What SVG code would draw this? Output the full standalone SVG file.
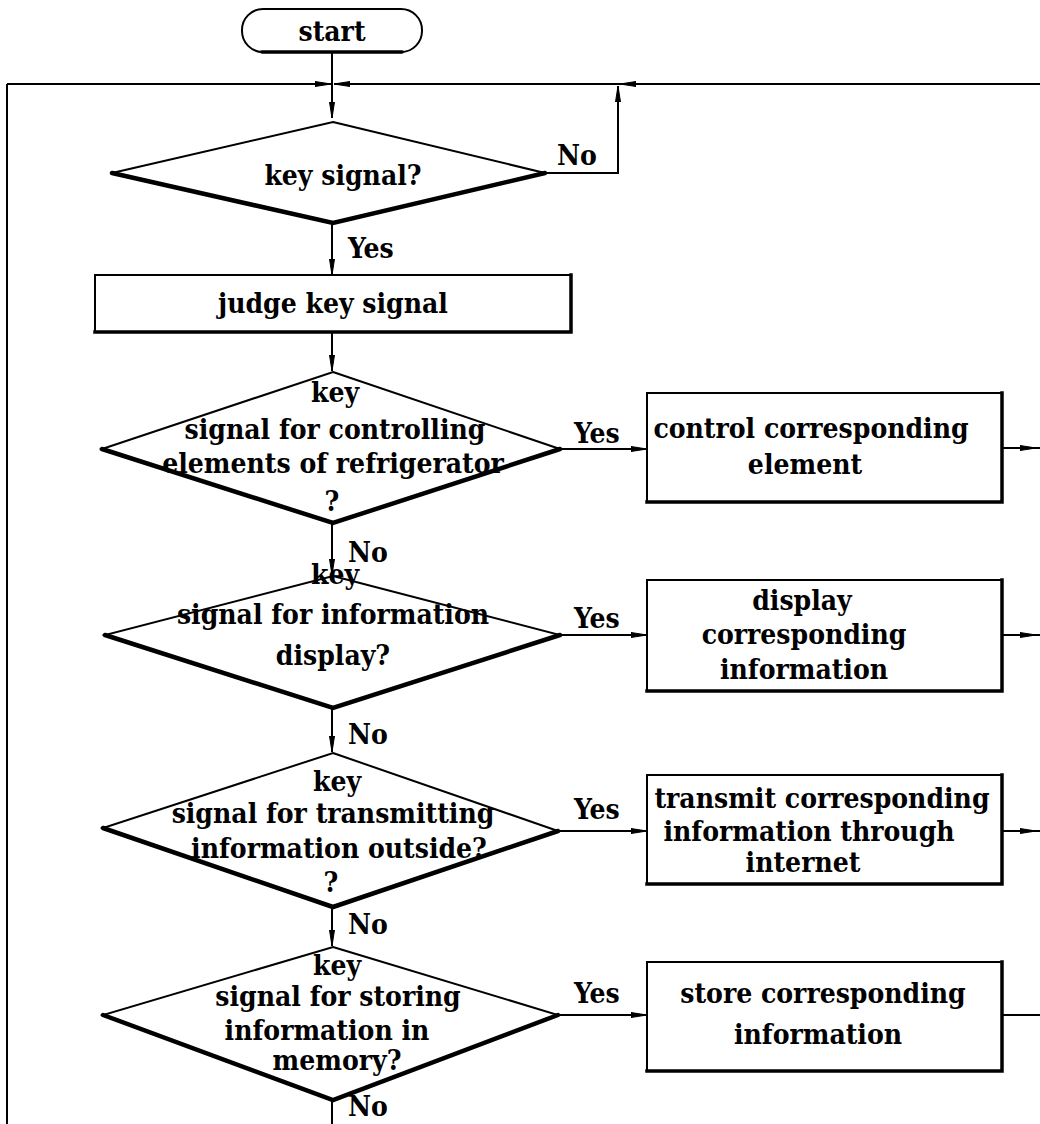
<svg xmlns="http://www.w3.org/2000/svg" width="1040" height="1124" viewBox="0 0 1040 1124">
<style>
  .bg{fill:#fff}
  .shape{fill:#fff;stroke:#000;stroke-width:2}
  .heavy{fill:none;stroke:#000;stroke-width:4.5;stroke-linecap:round}
  .line{fill:none;stroke:#000;stroke-width:2}
  .t{font-family:"DejaVu Serif Condensed","DejaVu Serif","Liberation Serif",serif;font-stretch:condensed;font-weight:bold;font-size:28px;fill:#000;text-anchor:middle}
  .l{font-family:"DejaVu Serif Condensed","DejaVu Serif","Liberation Serif",serif;font-stretch:condensed;font-weight:bold;font-size:28px;fill:#000;text-anchor:start}
</style>
<defs>
  <marker id="arr" markerUnits="userSpaceOnUse" markerWidth="16" markerHeight="8" refX="16" refY="4" orient="auto">
    <path d="M0,1.5 L16,4 L0,6.5 z" fill="#000" stroke="#000" stroke-width="1"/>
  </marker>
</defs>
<rect class="bg" x="0" y="0" width="1040" height="1124"/>

<g id="connectors">
  <line class="line" x1="332" y1="52" x2="332" y2="118" marker-end="url(#arr)"/>
  <line class="line" x1="7" y1="84" x2="331" y2="84" marker-end="url(#arr)"/>
  <line class="line" x1="1040" y1="84" x2="620" y2="84" marker-end="url(#arr)"/>
  <line class="line" x1="620" y1="84" x2="334" y2="84" marker-end="url(#arr)"/>
  <line class="line" x1="7" y1="84" x2="7" y2="1124"/>
  <polyline class="line" points="545,173 618,173 618,86" marker-end="url(#arr)"/>
  <line class="line" x1="332" y1="223" x2="332" y2="275" marker-end="url(#arr)"/>
  <line class="line" x1="332" y1="332" x2="332" y2="371" marker-end="url(#arr)"/>
  <line class="line" x1="332" y1="523" x2="332" y2="575" marker-end="url(#arr)"/>
  <line class="line" x1="332" y1="708" x2="332" y2="752" marker-end="url(#arr)"/>
  <line class="line" x1="332" y1="907" x2="332" y2="946" marker-end="url(#arr)"/>
  <line class="line" x1="332" y1="1100" x2="332" y2="1124"/>
  <line class="line" x1="560" y1="449" x2="647" y2="449" marker-end="url(#arr)"/>
  <line class="line" x1="560" y1="635" x2="647" y2="635" marker-end="url(#arr)"/>
  <line class="line" x1="558" y1="831" x2="647" y2="831" marker-end="url(#arr)"/>
  <line class="line" x1="558" y1="1015" x2="647" y2="1015" marker-end="url(#arr)"/>
  <line class="line" x1="1002" y1="448" x2="1036" y2="448" marker-end="url(#arr)"/>
  <line class="line" x1="1036" y1="448" x2="1040" y2="448"/>
  <line class="line" x1="1002" y1="635" x2="1036" y2="635" marker-end="url(#arr)"/>
  <line class="line" x1="1036" y1="635" x2="1040" y2="635"/>
  <line class="line" x1="1002" y1="831" x2="1036" y2="831" marker-end="url(#arr)"/>
  <line class="line" x1="1036" y1="831" x2="1040" y2="831"/>
  <line class="line" x1="1002" y1="1015" x2="1040" y2="1015"/>
  <text class="t" x="577" y="165">No</text>
  <text class="l" x="348" y="258">Yes</text>
  <text class="l" x="574" y="443">Yes</text>
  <text class="l" x="348" y="562">No</text>
  <text class="l" x="574" y="628">Yes</text>
  <text class="l" x="348" y="744">No</text>
  <text class="l" x="574" y="819">Yes</text>
  <text class="l" x="348" y="934">No</text>
  <text class="l" x="574" y="1003">Yes</text>
  <text class="l" x="348" y="1116">No</text>
</g>

<g id="start">
  <rect class="shape" x="242" y="9" width="180" height="43" rx="21" ry="21"/>
  <line class="heavy" x1="262" y1="52" x2="402" y2="52" style="stroke-width:3.5"/>
  <text class="t" x="332" y="41">start</text>
</g>

<g id="d1">
  <polygon class="shape" points="333,122 545,173 333,223 112,173"/>
  <polyline class="heavy" points="112,173 333,223 545,173"/>
  <text class="t" x="343" y="185">key signal?</text>
</g>

<g id="judge">
  <rect class="shape" x="95" y="275" width="476" height="57"/>
  <polyline class="heavy" points="95,332 571,332 571,275" style="stroke-width:3.5;stroke-linecap:square"/>
  <text class="t" x="333" y="313">judge key signal</text>
</g>

<g id="d2">
  <polygon class="shape" points="333,372 560,449 333,523 102,449"/>
  <polyline class="heavy" points="102,449 333,523 560,449"/>
  <text class="t" x="335" y="402">key</text>
  <text class="t" x="335" y="439">signal for controlling</text>
  <text class="t" x="333" y="473">elements of refrigerator</text>
  <text class="t" x="332" y="511">?</text>
</g>

<g id="box1">
  <rect class="shape" x="647" y="393" width="355" height="109"/>
  <polyline class="heavy" points="647,502 1002,502 1002,393" style="stroke-width:3.5;stroke-linecap:square"/>
  <text class="t" x="811" y="438">control corresponding</text>
  <text class="t" x="805" y="474">element</text>
</g>

<g id="d3">
  <polygon class="shape" points="333,576 560,635 333,708 105,635"/>
  <polyline class="heavy" points="105,635 333,708 560,635"/>
  <text class="t" x="335" y="584">key</text>
  <text class="t" x="333" y="624">signal for information</text>
  <text class="t" x="333" y="665">display?</text>
</g>

<g id="box2">
  <rect class="shape" x="647" y="580" width="355" height="111"/>
  <polyline class="heavy" points="647,691 1002,691 1002,580" style="stroke-width:3.5;stroke-linecap:square"/>
  <text class="t" x="802" y="610">display</text>
  <text class="t" x="804" y="644">corresponding</text>
  <text class="t" x="804" y="679">information</text>
</g>

<g id="d4">
  <polygon class="shape" points="333,753 558,831 333,907 103,828"/>
  <polyline class="heavy" points="103,828 333,907 558,831"/>
  <text class="t" x="337" y="791">key</text>
  <text class="t" x="333" y="823">signal for transmitting</text>
  <text class="t" x="339" y="858">information outside?</text>
  <text class="t" x="331" y="892">?</text>
</g>

<g id="box3">
  <rect class="shape" x="647" y="775" width="355" height="109"/>
  <polyline class="heavy" points="647,884 1002,884 1002,775" style="stroke-width:3.5;stroke-linecap:square"/>
  <text class="t" x="822" y="808">transmit corresponding</text>
  <text class="t" x="809" y="841">information through</text>
  <text class="t" x="803" y="872">internet</text>
</g>

<g id="d5">
  <polygon class="shape" points="333,947 558,1015 333,1100 103,1015"/>
  <polyline class="heavy" points="103,1015 333,1100 558,1015"/>
  <text class="t" x="337" y="975">key</text>
  <text class="t" x="338" y="1006">signal for storing</text>
  <text class="t" x="327" y="1040">information in</text>
  <text class="t" x="337" y="1070">memory?</text>
</g>

<g id="box4">
  <rect class="shape" x="647" y="962" width="355" height="109"/>
  <polyline class="heavy" points="647,1071 1002,1071 1002,962" style="stroke-width:3.5;stroke-linecap:square"/>
  <text class="t" x="823" y="1003">store corresponding</text>
  <text class="t" x="818" y="1044">information</text>
</g>
</svg>
